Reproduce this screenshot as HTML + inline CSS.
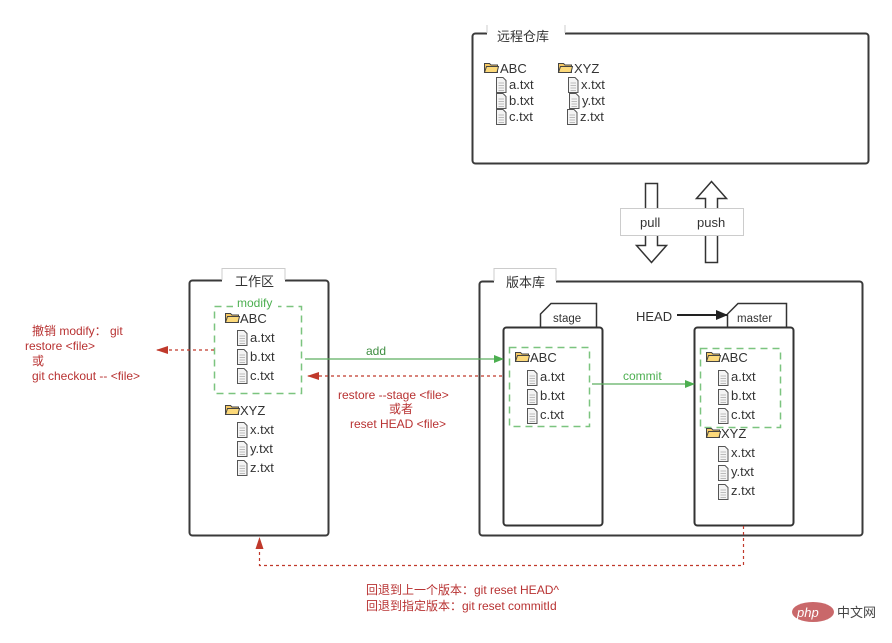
<!DOCTYPE html>
<html><head><meta charset="utf-8"><style>
html,body{margin:0;padding:0;background:#fff;width:892px;height:643px;overflow:hidden}
svg{display:block}
text{font-family:"Liberation Sans","Noto Sans CJK SC",sans-serif;font-size:13px;fill:#333}
.r{fill:#b83232;font-size:12px}
.g{fill:#4caf50;font-size:12px}
</style></head><body>
<svg width="892" height="643" viewBox="0 0 892 643" xmlns="http://www.w3.org/2000/svg">
<defs>
<g id="fo"><path d="M0.5,1.5 h5 l1.5,1.5 h6.5 v7.5 h-13z" fill="#f6c964" stroke="#444" stroke-width="1"/><path d="M0.5,10.5 l2,-6 h12 l-1.5,6z" fill="#fcd97a" stroke="#444" stroke-width="1"/></g>
<g id="fi"><path d="M0.5,0.5 h6.5 l3,3 v12 h-9.5z" fill="#f4f4f4" stroke="#555" stroke-width="1"/><path d="M2.5,6 h5.5 M2.5,8.5 h5.5 M2.5,11 h5.5 M2.5,13.5 h5.5" stroke="#bbb" stroke-width="1"/></g>
<marker id="ag" markerWidth="10" markerHeight="8" refX="9" refY="4" orient="auto" markerUnits="userSpaceOnUse"><path d="M0,0 L10,4 L0,8z" fill="#4caf50"/></marker>
<marker id="ar" markerWidth="12" markerHeight="8" refX="11" refY="4" orient="auto" markerUnits="userSpaceOnUse"><path d="M0,0 L12,4 L0,8z" fill="#c0392b"/></marker>
<marker id="ak" markerWidth="12" markerHeight="10" refX="11" refY="5" orient="auto" markerUnits="userSpaceOnUse"><path d="M0,0 L12,5 L0,10z" fill="#222"/></marker>
</defs>

<!-- remote -->
<rect x="472.5" y="33.5" width="396" height="130" rx="3" fill="#fff" stroke="#3a3a3a" stroke-width="2"/>
<rect x="487" y="24" width="78" height="18" fill="#fff"/>
<path d="M487,33 V25 M565,33 V25" stroke="#ccc"/>
<text x="497" y="41">远程仓库</text>
<use href="#fo" x="484" y="62"/><text x="500" y="73">ABC</text>
<use href="#fi" x="496" y="77"/><text x="509" y="89">a.txt</text>
<use href="#fi" x="496" y="93"/><text x="509" y="105">b.txt</text>
<use href="#fi" x="496" y="109"/><text x="509" y="121">c.txt</text>
<use href="#fo" x="558" y="62"/><text x="574" y="73">XYZ</text>
<use href="#fi" x="568" y="77"/><text x="581" y="89">x.txt</text>
<use href="#fi" x="569" y="93"/><text x="582" y="105">y.txt</text>
<use href="#fi" x="567" y="109"/><text x="580" y="121">z.txt</text>

<!-- pull/push -->
<path d="M645.5,183.5 h12 v62 h9 l-15,17 l-15,-17 h9z" fill="#fff" stroke="#333" stroke-width="1.5"/>
<path d="M705.5,262.5 h12 v-64 h9 l-15,-17 l-15,17 h9z" fill="#fff" stroke="#333" stroke-width="1.5"/>
<rect x="620.5" y="208.5" width="123" height="27" fill="#fff" stroke="#ccc"/>
<text x="640" y="227">pull</text>
<text x="697" y="227">push</text>

<!-- workspace -->
<rect x="189.5" y="280.5" width="139" height="255" rx="3" fill="#fff" stroke="#3a3a3a" stroke-width="2"/>
<rect x="222" y="268" width="63" height="20" fill="#fff"/>
<path d="M222,280 V268.5 H285 V280" stroke="#ccc" fill="none"/>
<text x="235" y="286">工作区</text>
<rect x="214.5" y="306.5" width="87" height="87" fill="none" stroke="#7bc47f" stroke-width="1.5" stroke-dasharray="7,5"/>
<rect x="233" y="296" width="45" height="14" fill="#fff"/>
<text class="g" x="237" y="307">modify</text>
<use href="#fo" x="225" y="312"/><text x="240" y="323">ABC</text>
<use href="#fi" x="237" y="330"/><text x="250" y="342">a.txt</text>
<use href="#fi" x="237" y="349"/><text x="250" y="361">b.txt</text>
<use href="#fi" x="237" y="368"/><text x="250" y="380">c.txt</text>
<use href="#fo" x="225" y="404"/><text x="240" y="415">XYZ</text>
<use href="#fi" x="237" y="422"/><text x="250" y="434">x.txt</text>
<use href="#fi" x="237" y="441"/><text x="250" y="453">y.txt</text>
<use href="#fi" x="237" y="460"/><text x="250" y="472">z.txt</text>

<!-- repo -->
<rect x="479.5" y="281.5" width="383" height="254" rx="3" fill="#fff" stroke="#3a3a3a" stroke-width="2"/>
<rect x="494" y="268" width="62" height="20" fill="#fff"/>
<path d="M494,281 V268.5 H556 V281" stroke="#ccc" fill="none"/>
<text x="506" y="287">版本库</text>

<!-- stage -->
<path d="M540.5,327 V314 L551,303.5 H596.5 V327" fill="#fff" stroke="#333" stroke-width="1.5"/>
<text x="553" y="322" style="font-size:11.5px">stage</text>
<rect x="503.5" y="327.5" width="99" height="198" rx="3" fill="#fff" stroke="#333" stroke-width="2"/>
<rect x="509.5" y="347.5" width="80" height="79" fill="none" stroke="#7bc47f" stroke-width="1.5" stroke-dasharray="7,5"/>
<use href="#fo" x="515" y="351"/><text x="530" y="362">ABC</text>
<use href="#fi" x="527" y="370"/><text x="540" y="381">a.txt</text>
<use href="#fi" x="527" y="389"/><text x="540" y="400">b.txt</text>
<use href="#fi" x="527" y="408"/><text x="540" y="419">c.txt</text>

<!-- master -->
<path d="M727.5,327 V314 L738,303.5 H786.5 V327" fill="#fff" stroke="#333" stroke-width="1.5"/>
<text x="737" y="322" style="font-size:11.5px">master</text>
<rect x="694.5" y="327.5" width="99" height="198" rx="3" fill="#fff" stroke="#333" stroke-width="2"/>
<rect x="700.5" y="348.5" width="80" height="79" fill="none" stroke="#7bc47f" stroke-width="1.5" stroke-dasharray="7,5"/>
<use href="#fo" x="706" y="351"/><text x="721" y="362">ABC</text>
<use href="#fi" x="718" y="370"/><text x="731" y="381">a.txt</text>
<use href="#fi" x="718" y="389"/><text x="731" y="400">b.txt</text>
<use href="#fi" x="718" y="408"/><text x="731" y="419">c.txt</text>
<use href="#fo" x="706" y="427"/><text x="721" y="438">XYZ</text>
<use href="#fi" x="718" y="446"/><text x="731" y="457">x.txt</text>
<use href="#fi" x="718" y="465"/><text x="731" y="476">y.txt</text>
<use href="#fi" x="718" y="484"/><text x="731" y="495">z.txt</text>

<text x="636" y="321">HEAD</text>
<line x1="677" y1="315" x2="727" y2="315" stroke="#222" stroke-width="2" marker-end="url(#ak)"/>

<!-- connectors -->
<line x1="305" y1="359" x2="503" y2="359" stroke="#5daf60" stroke-width="1.2" marker-end="url(#ag)"/>
<text class="g" x="366" y="355" style="fill:#3e8e41">add</text>
<line x1="502" y1="376" x2="308" y2="376" stroke="#c0392b" stroke-width="1.2" stroke-dasharray="3,3" marker-end="url(#ar)"/>
<text class="r" x="338" y="399">restore  --stage &lt;file&gt;</text>
<text class="r" x="389" y="413">或者</text>
<text class="r" x="350" y="428">reset HEAD &lt;file&gt;</text>
<line x1="214" y1="350" x2="157" y2="350" stroke="#c0392b" stroke-width="1.2" stroke-dasharray="3,3" marker-end="url(#ar)"/>
<text class="r" x="32" y="335">撤销 modify：   git</text>
<text class="r" x="25" y="350">restore &lt;file&gt;</text>
<text class="r" x="32" y="365">或</text>
<text class="r" x="32" y="380">git checkout -- &lt;file&gt;</text>
<line x1="592" y1="384" x2="694" y2="384" stroke="#5daf60" stroke-width="1.2" marker-end="url(#ag)"/>
<text class="g" x="623" y="380">commit</text>
<path d="M743.5,526 V565.5 H259.5 V538" fill="none" stroke="#c0392b" stroke-width="1.2" stroke-dasharray="3,3" marker-end="url(#ar)"/>
<text class="r" x="366" y="594">回退到上一个版本：git reset HEAD^</text>
<text class="r" x="366" y="610">回退到指定版本：git reset commitId</text>

<!-- watermark -->
<ellipse cx="813" cy="612" rx="21" ry="10" fill="#c9686a"/>
<text x="797" y="617" style="fill:#fff;font-style:italic;font-size:13px">php</text>
<text x="837" y="617" style="font-size:13px;fill:#444">中文网</text>
</svg>
</body></html>
